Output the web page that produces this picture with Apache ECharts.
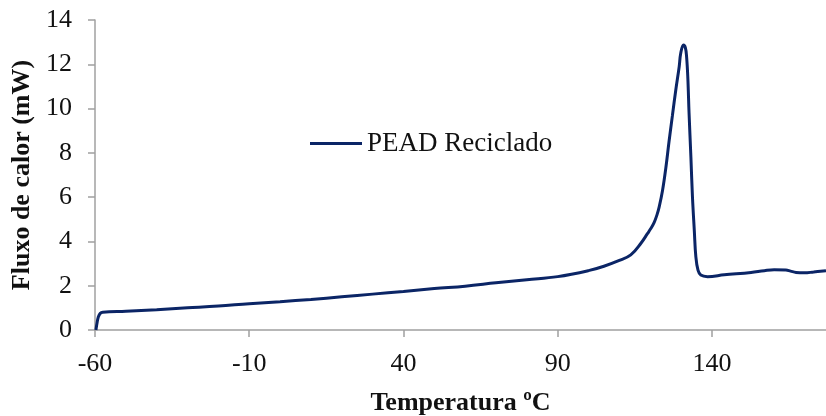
<!DOCTYPE html>
<html>
<head>
<meta charset="utf-8">
<script src="https://cdn.jsdelivr.net/npm/echarts@6/dist/echarts.min.js"></script>
<style>
  html, body { margin: 0; padding: 0; background: #fff; }
  #chart { width: 826px; height: 416px; }
</style>
</head>
<body>
<div id="chart"></div>
<script>
// DSC curve of recycled HDPE: temperature (ºC) vs heat flow (mW)
const temperatures = [-59.7, -59.3, -58.9, -58.3, -57.5, -50, -40, -30, -20, -10, 0, 10, 20, 30, 40, 50, 60, 70, 80, 90, 100, 105, 110, 113.7, 117, 119.1, 120.2, 121.3, 122.2, 122.9, 124, 125.1, 126.1, 127.2, 128.3, 129.4, 129.9, 130.8, 131.4, 131.8, 132.2, 132.6, 133.2, 133.7, 134.3, 134.8, 135.5, 136.4, 138.6, 144, 152.7, 157, 160.2, 164, 165.5, 167.3, 170, 173, 177];
const heatFlow = [0, 0.35, 0.6, 0.75, 0.8, 0.85, 0.92, 1.0, 1.08, 1.19, 1.28, 1.38, 1.5, 1.62, 1.74, 1.87, 1.98, 2.13, 2.27, 2.41, 2.68, 2.88, 3.14, 3.39, 3.92, 4.35, 4.58, 4.86, 5.2, 5.55, 6.3, 7.35, 8.5, 9.68, 10.84, 11.89, 12.5, 12.87, 12.75, 12.35, 11.4, 9.8, 7.8, 6.03, 4.5, 3.31, 2.7, 2.48, 2.41, 2.49, 2.6, 2.68, 2.72, 2.71, 2.66, 2.6, 2.58, 2.62, 2.68];

const xTicks = [-60, -10, 40, 90, 140];
const yTicks = [0, 2, 4, 6, 8, 10, 12, 14];

const seriesName = 'PEAD Reciclado';
const xTitle = 'Temperatura ºC';
const yTitle = 'Fluxo de calor (mW)';

const points = temperatures.map((t, i) => [t, heatFlow[i]]);

const FONT = '"Liberation Serif", "Times New Roman", serif';
const AXIS_GRAY = '#a0a0a0';
const LINE_BLUE = '#0b2566';

const chart = echarts.init(document.getElementById('chart'), null, { renderer: 'canvas' });

chart.setOption({
  animation: false,
  backgroundColor: '#ffffff',
  grid: { left: 95, right: 0, top: 20, bottom: 86, containLabel: false, outerBoundsMode: 'none' },
  legend: {
    data: [{ name: seriesName, icon: 'rect' }],
    left: 305,
    top: 125,
    itemWidth: 52,
    itemHeight: 3,
    itemGap: 0,
    itemStyle: { color: LINE_BLUE, borderWidth: 0 },
    textStyle: { fontFamily: FONT, fontSize: 27, color: '#111', padding: [0, 0, 0, 0] }
  },
  xAxis: {
    type: 'value',
    min: -60,
    max: 177,
    interval: 50,
    name: xTitle,
    nameLocation: 'middle',
    nameGap: 60,
    nameTextStyle: { fontFamily: FONT, fontSize: 26, fontWeight: 'bold', color: '#111' },
    axisLine: { onZero: false, lineStyle: { color: AXIS_GRAY, width: 1.5 } },
    axisTick: { show: true, length: 7, customValues: xTicks, lineStyle: { color: AXIS_GRAY, width: 1.5 } },
    axisLabel: { customValues: xTicks, margin: 21, fontFamily: FONT, fontSize: 26, color: '#111' },
    splitLine: { show: false }
  },
  yAxis: {
    type: 'value',
    min: 0,
    max: 14,
    interval: 2,
    name: yTitle,
    nameLocation: 'middle',
    nameGap: 56,
    nameTextStyle: { fontFamily: FONT, fontSize: 26, fontWeight: 'bold', color: '#111' },
    axisLine: { show: true, onZero: false, lineStyle: { color: AXIS_GRAY, width: 1.5 } },
    axisTick: { show: true, length: 7, customValues: yTicks, lineStyle: { color: AXIS_GRAY, width: 1.5 } },
    axisLabel: { customValues: yTicks, margin: 23, fontFamily: FONT, fontSize: 26, color: '#111' },
    splitLine: { show: false }
  },
  series: [{
    name: seriesName,
    type: 'line',
    data: points,
    showSymbol: false,
    symbol: 'none',
    smooth: 0.4,
    clip: true,
    lineStyle: { color: LINE_BLUE, width: 3 },
    itemStyle: { color: LINE_BLUE }
  }]
});
</script>
</body>
</html>
